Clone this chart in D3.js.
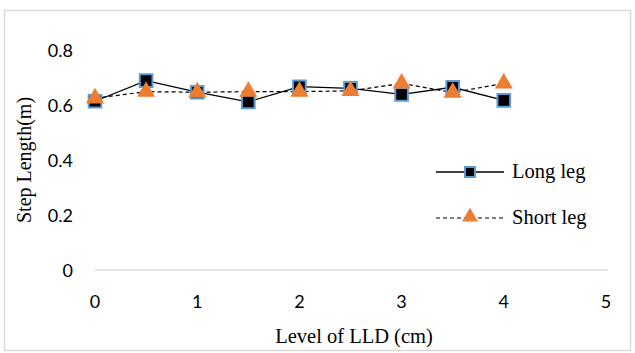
<!DOCTYPE html>
<html>
<head>
<meta charset="utf-8">
<script src="https://cdn.jsdelivr.net/npm/d3@7"></script>
<style>
  body { margin: 0; background: #fff; }
</style>
</head>
<body>
<div id="chart"></div>
<script>
var levels = [0, 0.5, 1, 1.5, 2, 2.5, 3, 3.5, 4];
var longLeg = [0.615, 0.69, 0.648, 0.613, 0.668, 0.662, 0.64, 0.666, 0.618];
var shortLeg = [0.626, 0.65, 0.648, 0.65, 0.65, 0.653, 0.68, 0.647, 0.68];
var xTicks = [0, 1, 2, 3, 4, 5];
var yTicks = [0, 0.2, 0.4, 0.6, 0.8];

var W = 635, H = 353;
var svg = d3.select("#chart").append("svg")
    .attr("width", W).attr("height", H);

// outer frame
svg.append("rect")
  .attr("x", 4.5).attr("y", 10.5).attr("width", 626).attr("height", 340)
  .attr("fill", "#fff").attr("stroke", "#d9d9d9").attr("stroke-width", 1.5);

var x = d3.scaleLinear().domain([0, 5]).range([95, 606]);
var y = d3.scaleLinear().domain([0, 0.8]).range([270, 50.5]);

var tickFont = "Lato, 'Open Sans', sans-serif";
var serif = "'Liberation Serif', 'Times New Roman', serif";

// x axis (line at zero)
svg.append("line")
  .attr("x1", x(0)).attr("x2", x(5) + 2)
  .attr("y1", y(0)).attr("y2", y(0))
  .attr("stroke", "#d9d9d9").attr("stroke-width", 1.5);

svg.selectAll(".xt").data(xTicks).enter().append("text")
  .attr("x", d => x(d)).attr("y", 308)
  .attr("text-anchor", "middle")
  .style("font-family", tickFont).style("font-size", "18px").attr("fill", "#000")
  .text(d => d);

svg.selectAll(".yt").data(yTicks).enter().append("text")
  .attr("x", 73).attr("y", d => y(d) + 6.5)
  .attr("text-anchor", "end")
  .style("font-family", tickFont).style("font-size", "18px").attr("fill", "#000")
  .text(d => d);

// axis titles
svg.append("text")
  .attr("x", 354).attr("y", 343)
  .attr("text-anchor", "middle")
  .style("font-family", serif).style("font-size", "20.5px")
  .text("Level of LLD (cm)");

svg.append("text")
  .attr("transform", "translate(31,160) rotate(-90)")
  .attr("text-anchor", "middle")
  .style("font-family", serif).style("font-size", "20px")
  .text("Step Length(m)");

var longPts = levels.map((d, i) => [d, longLeg[i]]);
var shortPts = levels.map((d, i) => [d, shortLeg[i]]);
var line = d3.line().x(d => x(d[0])).y(d => y(d[1]));

svg.append("path").datum(longPts).attr("d", line)
  .attr("fill", "none").attr("stroke", "#000").attr("stroke-width", 1.3);
svg.append("path").datum(shortPts).attr("d", line)
  .attr("fill", "none").attr("stroke", "#000").attr("stroke-width", 1.2)
  .attr("stroke-dasharray", "4,3");

var sq = d3.symbol().type(d3.symbolSquare).size(160);
var tri = d3.symbol().type(d3.symbolTriangle).size(140);

svg.selectAll(".sq").data(longPts).enter().append("path")
  .attr("d", sq)
  .attr("transform", d => "translate(" + x(d[0]) + "," + y(d[1]) + ")")
  .attr("fill", "#000").attr("stroke", "#5b9bd5").attr("stroke-width", 2);

svg.selectAll(".tr").data(shortPts).enter().append("path")
  .attr("d", tri)
  .attr("transform", d => "translate(" + x(d[0]) + "," + y(d[1]) + ")")
  .attr("fill", "#ed7d31");

// legend
var lg = svg.append("g");
lg.append("line").attr("x1", 436).attr("x2", 504).attr("y1", 172).attr("y2", 172)
  .attr("stroke", "#000").attr("stroke-width", 1.3);
lg.append("path").attr("d", d3.symbol().type(d3.symbolSquare).size(100))
  .attr("transform", "translate(470,172)")
  .attr("fill", "#000").attr("stroke", "#5b9bd5").attr("stroke-width", 2);
lg.append("text").attr("x", 512).attr("y", 178)
  .style("font-family", serif).style("font-size", "20.5px")
  .text("Long leg");

lg.append("line").attr("x1", 436).attr("x2", 504).attr("y1", 218).attr("y2", 218)
  .attr("stroke", "#000").attr("stroke-width", 1.2).attr("stroke-dasharray", "4,3");
lg.append("path").attr("d", d3.symbol().type(d3.symbolTriangle).size(110))
  .attr("transform", "translate(470,217)")
  .attr("fill", "#ed7d31");
lg.append("text").attr("x", 512).attr("y", 224)
  .style("font-family", serif).style("font-size", "20.5px")
  .text("Short leg");
</script>
</body>
</html>
